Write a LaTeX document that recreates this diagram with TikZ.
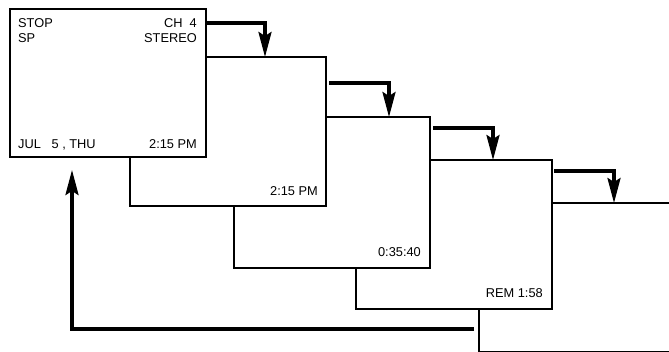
\documentclass[tikz,border=0pt]{standalone}
\usepackage{fontspec}
\setmainfont{Liberation Sans}
\usetikzlibrary{arrows.meta,calc}

\begin{document}
\begin{tikzpicture}[x=1pt,y=-1pt,
  screen/.style={draw,fill=white,line width=1.4pt,minimum width=196pt,
    minimum height=149pt,inner sep=0pt,outer sep=0pt,anchor=north west},
  flow/.style={line width=3.2pt,-{Stealth[length=25pt,width=13pt,inset=4pt]}},
  txt/.style={font=\fontsize{12.8}{15}\selectfont,inner sep=0pt}]
  \useasboundingbox (0,0) rectangle (669,351);
  \clip (0,0) rectangle (669,351);
  % the screens, last one at the back
  \node[screen] (s5) at (479,203) {};
  \node[screen] (s4) at (356,160) {};
  \node[screen,minimum height=151pt] (s3) at (234,117) {};
  \node[screen] (s2) at (130,57) {};
  \node[screen,minimum height=148pt] (s1) at (10,9) {};
  % what each screen shows
  \node[txt,anchor=base west] (stop) at ($(s1.north west)+(8,18)$) {STOP};
  \node[txt,anchor=base west] (sp) at ($(s1.north west)+(8,33)$) {SP};
  \node[txt,anchor=base east] (ch) at ($(s1.north east)+(-9,18)$) {CH\ \ 4};
  \node[txt,anchor=base east] (stereo) at ($(s1.north east)+(-9,33)$) {STEREO};
  \node[txt,anchor=base west] (date) at ($(s1.south west)+(8,-9)$) {JUL\ \ \ 5 , THU};
  \node[txt,anchor=base east] (clock) at ($(s1.south east)+(-9,-9)$) {2:15 PM};
  \node[txt,anchor=base east] (clock2) at ($(s2.south east)+(-8,-11)$) {2:15 PM};
  \node[txt,anchor=base east] (count) at ($(s3.south east)+(-9,-12)$) {0:35:40};
  \node[txt,anchor=base east] (rem) at ($(s4.south east)+(-9,-12)$) {REM 1:58};
  % stepping from one screen to the next
  \draw[flow] ($(s1.north east)+(0,14)$) -| ($(s2.north west)+(135,0)$);
  \draw[flow] ($(s2.north east)+(3,26)$) -| ($(s3.north west)+(155,0)$);
  \draw[flow] ($(s3.north east)+(3,11)$) -| ($(s4.north west)+(137,0)$);
  \draw[flow] ($(s4.north east)+(2,11)$) -| ($(s5.north west)+(135,0)$);
  % back to the first screen
  \coordinate (back) at ($(s5.north west)+(-5,126)$);
  \draw[flow] (back) -| ($(s1.south west)+(62,13)$);
\end{tikzpicture}
\end{document}
